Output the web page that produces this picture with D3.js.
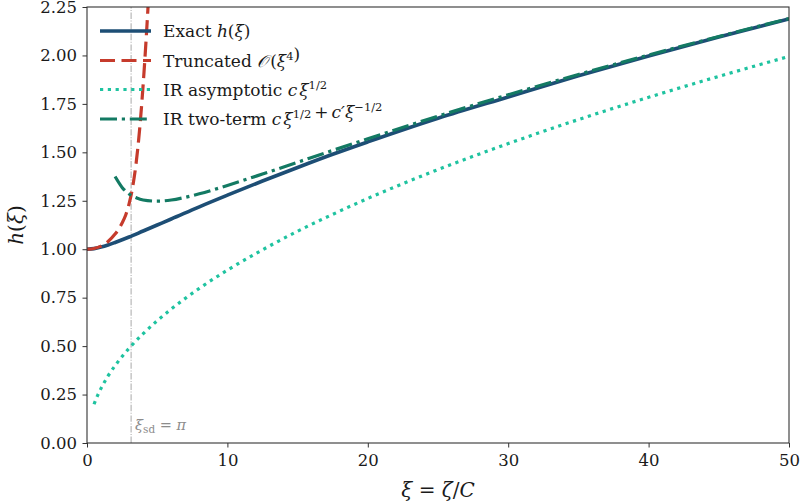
<!DOCTYPE html>
<html>
<head>
<meta charset="utf-8">
<script src="https://cdn.jsdelivr.net/npm/d3@7"></script>
<style>
  html, body { margin: 0; padding: 0; background: #fff; }
  svg { display: block; }
  text { font-family: "DejaVu Serif", serif; }
</style>
</head>
<body>
<svg id="chart" width="801" height="503"></svg>
<script>
// ---------------- data ----------------
const xTicks = [0, 10, 20, 30, 40, 50];
const yTicks = [0, 0.25, 0.5, 0.75, 1.0, 1.25, 1.5, 1.75, 2.0, 2.25];
const xiSd = Math.PI;

// Exact h(xi)
const exactXi = [0, 0.5, 1, 1.5, 2, 3, 4, 5, 6, 8, 10, 12.5, 15, 17.5, 20, 25, 30, 35, 40, 45, 50];
const exactH  = [1.000, 1.003, 1.011, 1.022, 1.035, 1.063, 1.094, 1.125, 1.156, 1.219, 1.279, 1.352, 1.422, 1.490, 1.554, 1.676, 1.786, 1.895, 1.997, 2.095, 2.188];

// Truncated O(xi^4) series
const truncXi = [0, 0.5, 1, 1.5, 2, 2.25, 2.5, 2.75, 3, 3.25, 3.5, 3.75, 4, 4.2, 4.4, 4.6];
const truncH  = [1.000, 1.004, 1.016, 1.040, 1.078, 1.103, 1.135, 1.175, 1.235, 1.320, 1.445, 1.620, 1.850, 2.070, 2.320, 2.600];

// IR asymptotic c xi^{1/2}
const asymXi = [0.5, 0.75, 1, 1.5, 2, 2.5, 3, 4, 5, 6, 8, 10, 12.5, 15, 17.5, 20, 25, 30, 35, 40, 45, 50];
const asymH  = [0.200, 0.244, 0.282, 0.346, 0.399, 0.446, 0.489, 0.564, 0.631, 0.691, 0.798, 0.892, 0.997, 1.093, 1.180, 1.262, 1.411, 1.545, 1.669, 1.784, 1.892, 1.995];

// IR two-term c xi^{1/2} + c' xi^{-1/2}
const twoXi = [2, 2.5, 3, 3.5, 4, 5, 6, 7, 8, 10, 12.5, 15, 17.5, 20, 25, 30, 35, 40, 45, 50];
const twoH  = [1.375, 1.319, 1.285, 1.266, 1.254, 1.248, 1.254, 1.268, 1.286, 1.329, 1.388, 1.449, 1.510, 1.570, 1.687, 1.797, 1.902, 2.002, 2.098, 2.190];

const colors = { exact: "#1d4e75", trunc: "#c63b2c", asym: "#1fc3a0", two: "#137a63", vline: "#b0b0b0", sd: "#8c8c8c" };

// ---------------- layout ----------------
const svg = d3.select("#chart");
const L = 87, R = 789, T = 7, B = 443;
const x = d3.scaleLinear().domain([0, 50]).range([L, R]);
const y = d3.scaleLinear().domain([0, 2.25]).range([B, T]);

svg.append("defs").append("clipPath").attr("id", "clip")
  .append("rect").attr("x", L).attr("y", T).attr("width", R - L).attr("height", B - T);

const plot = svg.append("g").attr("clip-path", "url(#clip)");

// vertical marker line at xi_sd = pi
plot.append("line")
  .attr("x1", x(xiSd)).attr("x2", x(xiSd)).attr("y1", y(0)).attr("y2", y(2.25))
  .attr("stroke", colors.vline).attr("stroke-width", 1.1)
  .attr("stroke-dasharray", "6.4,1.6,1,1.6");

const line = d3.line().x(d => x(d[0])).y(d => y(d[1])).curve(d3.curveMonotoneX);
const zip = (a, b) => a.map((v, i) => [v, b[i]]);

const series = [
  { xs: exactXi, ys: exactH, color: colors.exact, w: 3.6, dash: null, cap: "butt" },
  { xs: truncXi, ys: truncH, color: colors.trunc, w: 3.2, dash: "15,6.5", cap: "butt" },
  { xs: asymXi, ys: asymH, color: colors.asym, w: 3.2, dash: "3.2,4.6", cap: "butt" },
  { xs: twoXi, ys: twoH, color: colors.two, w: 3.2, dash: "17,4.8,3.2,4.8", cap: "butt" }
];

series.forEach(s => {
  plot.append("path")
    .attr("d", line(zip(s.xs, s.ys)))
    .attr("fill", "none")
    .attr("stroke", s.color)
    .attr("stroke-width", s.w)
    .attr("stroke-linecap", s.cap)
    .attr("stroke-dasharray", s.dash);
});

// xi_sd label
const sdText = svg.append("text")
  .attr("x", x(xiSd) + 4).attr("y", 430)
  .attr("fill", colors.sd).attr("font-size", 14.5);
sdText.append("tspan").attr("font-style", "italic").text("ξ");
sdText.append("tspan").attr("font-size", 10.5).attr("dy", 3).text("sd");
sdText.append("tspan").attr("dy", -3).text(" = ");
sdText.append("tspan").attr("font-style", "italic").text("π");

// ---------------- axes ----------------
const xAxis = svg.append("g").attr("transform", `translate(0,${B})`)
  .call(d3.axisBottom(x).tickValues(xTicks).tickFormat(d3.format("d")).tickSize(4.5).tickPadding(7));
const yAxis = svg.append("g").attr("transform", `translate(${L},0)`)
  .call(d3.axisLeft(y).tickValues(yTicks).tickFormat(d3.format(".2f")).tickSize(4.5).tickPadding(5.5));

[xAxis, yAxis].forEach(g => {
  g.select(".domain").remove();
  g.selectAll(".tick line").attr("stroke", "#333").attr("stroke-width", 1);
  g.selectAll(".tick text").attr("fill", "#1a1a1a").attr("font-size", 16.5)
    .attr("font-family", "DejaVu Serif, serif");
});

// frame
svg.append("rect").attr("x", L).attr("y", T).attr("width", R - L).attr("height", B - T)
  .attr("fill", "none").attr("stroke", "#333").attr("stroke-width", 1.1);

// axis labels
const xl = svg.append("text").attr("x", (L + R) / 2).attr("y", 497)
  .attr("text-anchor", "middle").attr("font-size", 20).attr("fill", "#1a1a1a");
xl.append("tspan").attr("font-style", "italic").text("ξ");
xl.append("tspan").text(" = ");
xl.append("tspan").attr("font-style", "italic").text("ζ");
xl.append("tspan").text("/");
xl.append("tspan").attr("font-style", "italic").text("C");

const yl = svg.append("text")
  .attr("transform", `translate(23,${(T + B) / 2}) rotate(-90)`)
  .attr("text-anchor", "middle").attr("font-size", 20).attr("fill", "#1a1a1a");
yl.append("tspan").attr("font-style", "italic").text("h");
yl.append("tspan").text("(");
yl.append("tspan").attr("font-style", "italic").text("ξ");
yl.append("tspan").text(")");

// ---------------- legend ----------------
const legendRows = [31, 60.5, 89.5, 119];
const legend = svg.append("g");
series.forEach((s, i) => {
  legend.append("line")
    .attr("x1", 100).attr("x2", 151).attr("y1", legendRows[i]).attr("y2", legendRows[i])
    .attr("stroke", s.color).attr("stroke-width", s.w)
    .attr("stroke-linecap", s.cap).attr("stroke-dasharray", s.dash);
});

function legendText(i) {
  return legend.append("text").attr("x", 163).attr("y", legendRows[i] + 6)
    .attr("font-size", 17).attr("fill", "#1a1a1a");
}
const sup = (t, txt) => { t.append("tspan").attr("font-size", 11.5).attr("dy", -7).text(txt); t.append("tspan").attr("dy", 7).text(""); };

let t0 = legendText(0);
t0.append("tspan").text("Exact ");
t0.append("tspan").attr("font-style", "italic").text("h");
t0.append("tspan").text("(");
t0.append("tspan").attr("font-style", "italic").text("ξ");
t0.append("tspan").text(")");

let t1 = legendText(1);
t1.append("tspan").text("Truncated ");
t1.append("tspan").attr("font-style", "italic").text("𝒪");
t1.append("tspan").attr("dx", 2).text("(");
t1.append("tspan").attr("font-style", "italic").text("ξ");
sup(t1, "4");
t1.append("tspan").text(")");

let t2 = legendText(2);
t2.append("tspan").text("IR asymptotic ");
t2.append("tspan").attr("font-style", "italic").text("c");
t2.append("tspan").attr("font-style", "italic").attr("dx", 2).text("ξ");
sup(t2, "1/2");

let t3 = legendText(3);
t3.append("tspan").text("IR two-term ");
t3.append("tspan").attr("font-style", "italic").text("c");
t3.append("tspan").attr("font-style", "italic").attr("dx", 2).text("ξ");
sup(t3, "1/2");
t3.append("tspan").attr("dx", 3).text("+");
t3.append("tspan").attr("font-style", "italic").attr("dx", 3).text("c′ξ");
sup(t3, "−1/2");
</script>
</body>
</html>
